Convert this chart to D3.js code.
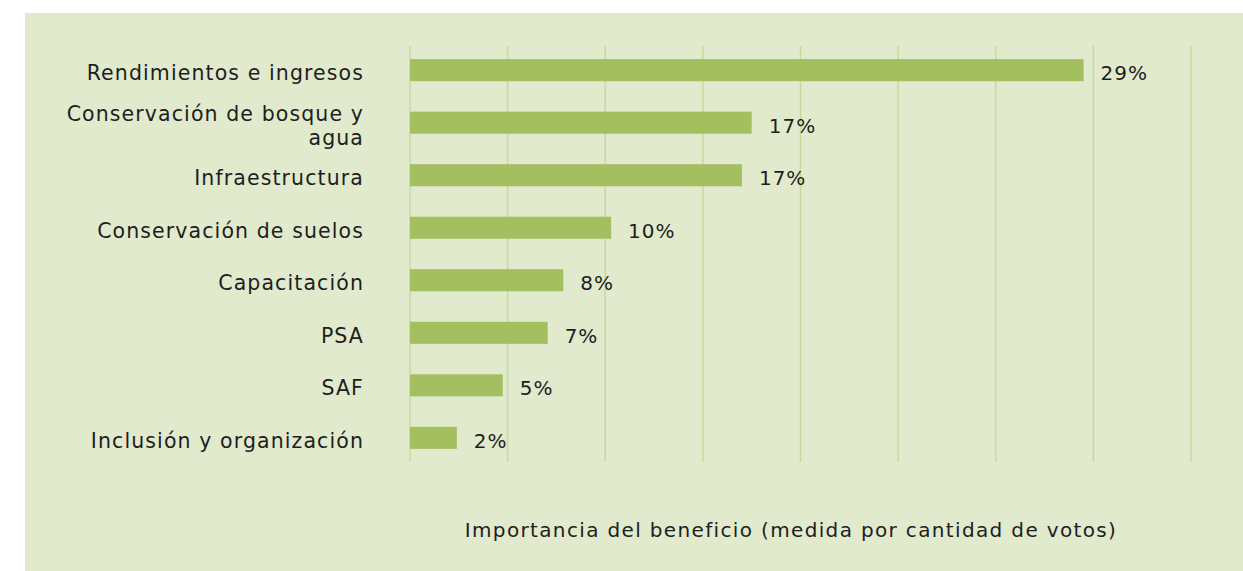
<!DOCTYPE html>
<html>
<head>
<meta charset="utf-8">
<script src="https://cdn.jsdelivr.net/npm/d3@7"></script>
<style>
  body { margin: 0; background: #ffffff; }
  text { font-family: "DejaVu Sans", sans-serif; fill: #1e1e1e; }
</style>
</head>
<body>
<div class="chart"></div>
<script>
var categories = [
  "Rendimientos e ingresos",
  "Conservación de bosque y|agua",
  "Infraestructura",
  "Conservación de suelos",
  "Capacitación",
  "PSA",
  "SAF",
  "Inclusión y organización"
];
// bar length in axis units (votes)
var votes = [69, 35, 34, 20.6, 15.7, 14.1, 9.5, 4.8];
var pctLabels = ["29%", "17%", "17%", "10%", "8%", "7%", "5%", "2%"];
var gridTicks = [0, 10, 20, 30, 40, 50, 60, 70, 80];
var axisTitle = "Importancia del beneficio (medida por cantidad de votos)";

var width = 1243,
  height = 571;
var margin = { top: 46, right: 52, bottom: 109, left: 410 };

var svg = d3
  .select(".chart")
  .append("svg")
  .attr("width", width)
  .attr("height", height);

// panel
svg
  .append("rect")
  .attr("x", 25)
  .attr("y", 13)
  .attr("width", width - 25)
  .attr("height", height - 13)
  .attr("fill", "#e1eacd");

var x = d3
  .scaleLinear()
  .domain([0, 80])
  .range([margin.left, width - margin.right]);

var y = d3
  .scaleBand()
  .domain(categories)
  .range([margin.top, height - margin.bottom])
  .paddingInner(0.58)
  .paddingOuter(0.25);

// vertical gridlines
svg
  .append("g")
  .attr("class", "grid")
  .selectAll("line")
  .data(gridTicks)
  .enter()
  .append("line")
  .attr("x1", function (d) { return x(d); })
  .attr("x2", function (d) { return x(d); })
  .attr("y1", margin.top)
  .attr("y2", height - margin.bottom)
  .attr("stroke", "#c9d99e")
  .attr("stroke-width", 1.5);

// bars
svg
  .selectAll(".bar")
  .data(categories)
  .enter()
  .append("rect")
  .attr("class", "bar")
  .attr("x", x(0))
  .attr("y", function (d) { return y(d); })
  .attr("width", function (d, i) { return x(votes[i]) - x(0); })
  .attr("height", y.bandwidth())
  .attr("fill", "#a3bf5f");

// value labels
svg
  .selectAll(".val")
  .data(categories)
  .enter()
  .append("text")
  .attr("class", "val")
  .attr("x", function (d, i) { return x(votes[i]) + 17; })
  .attr("y", function (d) { return y(d) + y.bandwidth() / 2 + 10; })
  .style("font-size", "20px")
  .style("letter-spacing", "1px")
  .text(function (d, i) { return pctLabels[i]; });

// category labels
var catLabels = svg
  .selectAll(".cat")
  .data(categories)
  .enter()
  .append("text")
  .attr("class", "cat")
  .attr("text-anchor", "end")
  .style("font-size", "20.5px")
  .style("letter-spacing", "1.1px");

catLabels.each(function (d) {
  var lines = d.split("|");
  var cy = y(d) + y.bandwidth() / 2 + 10 - ((lines.length - 1) * 24) / 2;
  var t = d3.select(this);
  lines.forEach(function (line, k) {
    t.append("tspan")
      .attr("x", 364)
      .attr("y", cy + k * 24)
      .text(line);
  });
});

// axis title
svg
  .append("text")
  .attr("x", 791)
  .attr("y", 537)
  .attr("text-anchor", "middle")
  .style("font-size", "20px")
  .style("letter-spacing", "1.35px")
  .text(axisTitle);
</script>
</body>
</html>
